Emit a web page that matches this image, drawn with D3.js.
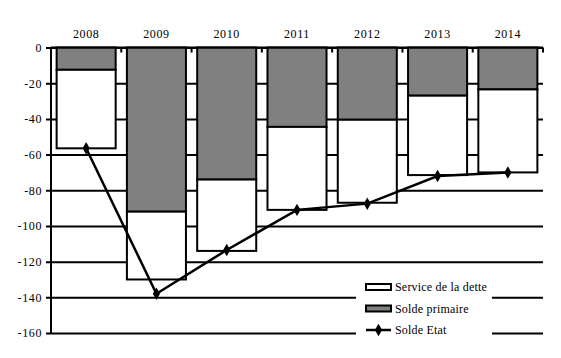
<!DOCTYPE html>
<html><head><meta charset="utf-8">
<script src="https://cdnjs.cloudflare.com/ajax/libs/d3/7.8.5/d3.min.js"></script>
<style>
html,body{margin:0;padding:0;background:#fff;}
svg{display:block;}
svg text{font-family:"Liberation Serif","Times New Roman",serif !important;font-size:12px;fill:#000;}
</style></head>
<body><svg id="c" width="561" height="358" font-family="Liberation Serif, serif"></svg>
<script>
const years = ["2008","2009","2010","2011","2012","2013","2014"];
const soldePrimaire = [-12.5, -92, -74, -44.5, -40.5, -27, -23.5];
const serviceDette = [-44, -38, -40, -46.5, -46.5, -44.5, -46.5];
const soldeEtat = [-56.5, -138, -113.5, -91, -87.5, -72, -70];
const yTicks = [0, -20, -40, -60, -80, -100, -120, -140, -160];
const legendLabels = ["Service de la dette", "Solde primaire", "Solde Etat"];

const FONT = '"Liberation Serif","Times New Roman",serif';
const svg = d3.select("#c");
const L = 51, R = 543, T = 47.5, B = 333;
const x = d3.scaleBand().domain(years).range([L, R]).paddingInner(0.16).paddingOuter(0.08);
const y = d3.scaleLinear().domain([-160, 0]).range([B, T]);

// gridlines
const yAxis = d3.axisLeft(y).tickValues(yTicks).tickFormat(d => String(d))
  .tickSize(-(R - L)).tickSizeOuter(0).tickPadding(9);
const gy = svg.append("g").attr("transform", `translate(${L},0)`).call(yAxis)
  .attr("font-family", FONT).attr("font-size", 12);
gy.select(".domain").remove();
gy.selectAll(".tick line").attr("stroke", "#000").attr("stroke-width", 2).attr("x1", -5);
gy.selectAll(".tick text").attr("fill", "#000").style("letter-spacing", "0.6px");

// stacked bars
const data = years.map((yr, i) => ({yr, sp: soldePrimaire[i], sd: serviceDette[i], se: soldeEtat[i]}));
const gb = svg.append("g");
gb.selectAll("rect.sp").data(data).join("rect").attr("class", "sp")
  .attr("x", d => x(d.yr)).attr("width", x.bandwidth())
  .attr("y", y(0)).attr("height", d => y(d.sp) - y(0))
  .attr("fill", "#808080").attr("stroke", "#000").attr("stroke-width", 2);
gb.selectAll("rect.sd").data(data).join("rect").attr("class", "sd")
  .attr("x", d => x(d.yr)).attr("width", x.bandwidth())
  .attr("y", d => y(d.sp)).attr("height", d => y(d.sp + d.sd) - y(d.sp))
  .attr("fill", "#fff").attr("stroke", "#000").attr("stroke-width", 2);

// left axis line
svg.append("line").attr("x1", L).attr("x2", L).attr("y1", T).attr("y2", B)
  .attr("stroke", "#000").attr("stroke-width", 2);
// top category axis at 0
const xAxis = d3.axisTop(x).tickSize(0).tickPadding(10);
const gx = svg.append("g").attr("transform", `translate(0,${y(0)})`).call(xAxis)
  .attr("font-family", FONT).attr("font-size", 12);
gx.select(".domain").attr("stroke", "#000").attr("stroke-width", 2).attr("d", `M${L},0H${R}`);
gx.selectAll(".tick text").attr("fill", "#000").style("letter-spacing", "0.6px");
// boundary tick marks
const bounds = d3.range(years.length + 1).map(i => L + i * x.step());
svg.append("g").selectAll("line").data(bounds).join("line")
  .attr("x1", d => d).attr("x2", d => d).attr("y1", y(0)).attr("y2", y(0) + 5)
  .attr("stroke", "#000").attr("stroke-width", 2);

// line
const line = d3.line().x(d => x(d.yr) + x.bandwidth() / 2).y(d => y(d.se));
svg.append("path").datum(data).attr("d", line).attr("fill", "none")
  .attr("stroke", "#000").attr("stroke-width", 2.5);
const diamond = d3.symbol().type(d3.symbolDiamond).size(45);
svg.append("g").selectAll("path").data(data).join("path")
  .attr("transform", d => `translate(${x(d.yr) + x.bandwidth() / 2},${y(d.se)})`)
  .attr("d", diamond).attr("fill", "#000");

// legend
const lg = svg.append("g");
lg.append("rect").attr("x", 356).attr("y", 268).attr("width", 136).attr("height", 75).attr("fill", "#fff");
const ly = [287, 308.5, 330];
lg.append("rect").attr("x", 366).attr("y", ly[0] - 3).attr("width", 25).attr("height", 6)
  .attr("fill", "#fff").attr("stroke", "#000").attr("stroke-width", 2);
lg.append("rect").attr("x", 366).attr("y", ly[1] - 3).attr("width", 25).attr("height", 6)
  .attr("fill", "#808080").attr("stroke", "#000").attr("stroke-width", 2);
lg.append("line").attr("x1", 366).attr("x2", 391).attr("y1", ly[2]).attr("y2", ly[2])
  .attr("stroke", "#000").attr("stroke-width", 2.5);
lg.append("path").attr("transform", `translate(378.5,${ly[2]})`).attr("d", diamond).attr("fill", "#000");
lg.selectAll("text").data(legendLabels).join("text")
  .attr("x", 395).attr("y", (d, i) => ly[i] + 4).attr("font-family", FONT).attr("font-size", 12)
  .text(d => d).style("letter-spacing", "0.2px");
</script></body></html>
